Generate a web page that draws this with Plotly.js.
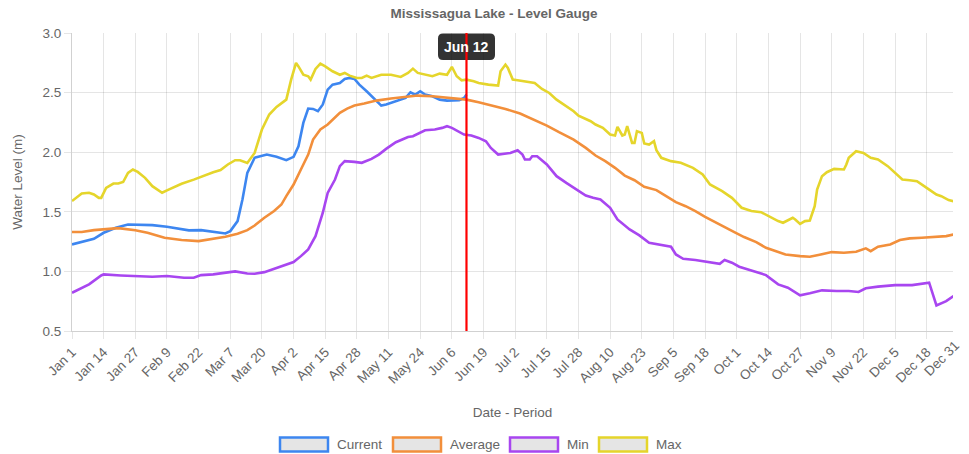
<!DOCTYPE html>
<html>
<head>
<meta charset="utf-8">
<script src="https://cdn.plot.ly/plotly-3.0.1.min.js"></script>
<style>html,body{margin:0;padding:0;background:#fff;}#chart{width:969px;height:454px;}</style>
</head>
<body>
<div id="chart"></div>
<script>
// ---- Data (day index from Jan 1, value in metres) ----
const tickDays = [0,13,26,39,52,65,78,91,104,117,130,143,156,169,182,195,208,221,234,247,260,273,286,299,312,325,338,351];
const tickLabels = ["Jan 1","Jan 14","Jan 27","Feb 9","Feb 22","Mar 7","Mar 20","Apr 2","Apr 15","Apr 28","May 11","May 24","Jun 6","Jun 19","Jul 2","Jul 15","Jul 28","Aug 10","Aug 23","Sep 5","Sep 18","Oct 1","Oct 14","Oct 27","Nov 9","Nov 22","Dec 5","Dec 18"];
const lastTickDay = 364;
const lastTickLabel = "Dec 31";
const currentDay = 162;
const currentLabel = "Jun 12";

const currentDays = [0,5,9,13,18,23,33,39,48,53,58,63,65,68,70,72,75,77,80,84,88,91,93,95,97,99,101,103,105,107,110,112,114,116,118,121,124,127,129,133,137,139,141,143,145,148,151,154,156,159,161,162];
const currentVals = [1.226,1.254,1.274,1.324,1.366,1.394,1.388,1.374,1.344,1.346,1.332,1.318,1.338,1.422,1.603,1.827,1.953,1.966,1.98,1.961,1.933,1.961,2.05,2.246,2.366,2.363,2.344,2.4,2.525,2.567,2.581,2.615,2.623,2.615,2.567,2.511,2.447,2.391,2.4,2.427,2.455,2.503,2.483,2.511,2.483,2.469,2.441,2.433,2.436,2.436,2.455,2.483];

const averageDays = [0,4,9,15,19,26,31,38,45,52,57,63,68,72,75,79,83,86,88,91,94,97,99,102,105,107,110,113,116,120,125,131,136,142,148,154,159,162,167,173,178,184,189,195,200,206,211,215,219,223,227,231,235,240,244,248,252,256,260,264,268,272,276,281,285,288,293,299,303,307,312,317,322,326,328,331,336,340,344,349,355,359,362];
const averageVals = [1.33,1.33,1.346,1.357,1.363,1.346,1.324,1.282,1.263,1.254,1.268,1.29,1.316,1.346,1.385,1.45,1.506,1.561,1.631,1.729,1.855,1.98,2.106,2.19,2.232,2.274,2.33,2.366,2.391,2.408,2.433,2.45,2.461,2.475,2.469,2.455,2.447,2.441,2.419,2.391,2.363,2.324,2.279,2.223,2.168,2.106,2.036,1.972,1.925,1.869,1.804,1.765,1.71,1.682,1.631,1.581,1.547,1.506,1.458,1.413,1.374,1.33,1.288,1.246,1.198,1.179,1.142,1.128,1.123,1.14,1.162,1.156,1.165,1.193,1.17,1.207,1.226,1.263,1.277,1.282,1.291,1.296,1.31];

const minDays = [0,7,12,13,20,33,39,46,50,53,58,64,67,72,75,79,83,87,91,94,97,100,103,105,108,110,112,116,119,123,126,129,133,138,140,145,149,152,154,156,159,161,164,167,170,172,175,178,180,183,185,186,188,189,191,195,199,203,207,211,214,217,221,224,229,233,237,241,244,246,248,251,256,261,266,268,271,274,278,282,285,288,290,294,299,303,308,314,319,323,326,331,338,345,349,352,355,359,362];
const minVals = [0.821,0.891,0.966,0.975,0.966,0.955,0.961,0.947,0.947,0.969,0.975,0.994,1.0,0.983,0.98,0.994,1.022,1.045,1.078,1.128,1.184,1.296,1.492,1.659,1.771,1.883,1.925,1.919,1.911,1.944,1.98,2.028,2.084,2.128,2.134,2.184,2.19,2.204,2.218,2.204,2.168,2.148,2.14,2.12,2.092,2.036,1.98,1.989,1.994,2.017,1.98,1.939,1.939,1.966,1.966,1.897,1.799,1.743,1.687,1.637,1.617,1.603,1.534,1.436,1.352,1.302,1.24,1.226,1.212,1.207,1.142,1.106,1.095,1.081,1.064,1.095,1.073,1.039,1.017,0.989,0.969,0.92,0.891,0.863,0.799,0.816,0.841,0.835,0.835,0.827,0.858,0.872,0.885,0.885,0.899,0.905,0.715,0.751,0.793];

const maxDays = [0,4,7,9,11,12,14,17,19,21,23,25,27,30,33,37,39,45,50,54,58,61,64,67,69,72,75,78,81,84,86,88,90,92,93,95,97,98,100,102,104,107,110,112,114,117,119,121,123,127,131,135,138,140,142,145,148,151,154,156,158,160,162,165,167,171,175,176,178,179,181,183,187,190,193,196,199,203,206,208,213,215,218,221,223,224,226,227,228,230,231,232,234,235,237,239,240,242,246,250,255,259,262,267,271,275,279,283,287,290,292,296,297,299,301,303,305,306,308,310,313,317,318,319,322,325,328,331,335,338,341,344,347,351,355,357,360,362];
const maxVals = [1.59,1.654,1.66,1.645,1.617,1.617,1.70,1.737,1.737,1.75,1.827,1.855,1.835,1.785,1.715,1.66,1.68,1.735,1.77,1.804,1.832,1.85,1.897,1.933,1.933,1.91,1.994,2.19,2.316,2.38,2.408,2.441,2.609,2.749,2.72,2.65,2.637,2.609,2.698,2.743,2.72,2.679,2.65,2.665,2.642,2.623,2.623,2.642,2.623,2.65,2.65,2.631,2.665,2.701,2.665,2.65,2.637,2.659,2.65,2.715,2.637,2.603,2.609,2.595,2.581,2.567,2.559,2.679,2.735,2.707,2.609,2.603,2.587,2.581,2.531,2.497,2.441,2.385,2.344,2.307,2.26,2.232,2.204,2.148,2.14,2.212,2.14,2.148,2.218,2.078,2.078,2.176,2.162,2.073,2.064,2.092,2.017,1.953,1.925,1.911,1.869,1.813,1.729,1.673,1.617,1.534,1.506,1.497,1.45,1.422,1.408,1.45,1.436,1.399,1.422,1.427,1.547,1.687,1.799,1.832,1.86,1.855,1.897,1.953,2.008,1.994,1.953,1.939,1.883,1.827,1.771,1.765,1.757,1.701,1.645,1.631,1.598,1.589];

const seriesNames = ["Current","Average","Min","Max"];
const seriesColors = ["#3d86f0","#f28f3b","#a846f0","#e5d52b"];

// ---- Geometry helpers (plot area in px) ----
const PL = 72, PT = 33, PR = 953, PB = 331;
const W = 969, H = 454;
const XMAX = 361.8;
const fx = p => (p - PL) / (PR - PL);
const fy = p => (PB - p) / (PB - PT);
const dayToPx = d => PL + d / XMAX * (PR - PL);
const FONT = "Liberation Sans, Arial, Helvetica, sans-serif";
const TXT = "#666666";
const GRID = "rgba(0,0,0,0.1)";

const allDays = [currentDays, averageDays, minDays, maxDays];
const allVals = [currentVals, averageVals, minVals, maxVals];
const traces = seriesNames.map((n, i) => ({
  type: "scatter", mode: "lines", name: n,
  x: allDays[i], y: allVals[i],
  line: {color: seriesColors[i], width: 2.6},
  hoverinfo: "skip", showlegend: false
}));

// legend (custom, chart.js style boxes)
const legendBoxes = [[280, 328], [393, 441], [510, 558], [599, 647]];
const legY0 = 437.5, legY1 = 451.5;
const shapes = [];
const annotations = [];
seriesNames.forEach((n, i) => {
  const b = legendBoxes[i];
  shapes.push({type: "rect", xref: "paper", yref: "paper",
    x0: fx(b[0]), x1: fx(b[1]), y0: fy(legY1), y1: fy(legY0),
    line: {color: seriesColors[i], width: 2.5}, fillcolor: "rgba(0,0,0,0.1)"});
  annotations.push({xref: "paper", yref: "paper", x: fx(b[1] + 7), y: fy((legY0 + legY1) / 2),
    xanchor: "left", yanchor: "middle", showarrow: false, text: n,
    font: {family: FONT, size: 13.5, color: TXT}});
});

// tooltip box for current date
const tipL = 438, tipR = 495, tipT = 33.5, tipB = 60, r = 5;
const rx = r / (PR - PL), ry = r / (PB - PT);
const x0 = fx(tipL), x1 = fx(tipR), yT = fy(tipT), yB = fy(tipB);
shapes.push({type: "path", xref: "paper", yref: "paper",
  path: `M ${x0 + rx},${yT} L ${x1 - rx},${yT} Q ${x1},${yT} ${x1},${yT - ry} L ${x1},${yB + ry} Q ${x1},${yB} ${x1 - rx},${yB} L ${x0 + rx},${yB} Q ${x0},${yB} ${x0},${yB + ry} L ${x0},${yT - ry} Q ${x0},${yT} ${x0 + rx},${yT} Z`,
  fillcolor: "rgba(0,0,0,0.8)", line: {width: 0}});
annotations.push({xref: "x", yref: "paper", x: currentDay, y: fy((tipT + tipB) / 2),
  xanchor: "center", yanchor: "middle", showarrow: false, text: "<b>" + currentLabel + "</b>",
  font: {family: FONT, size: 14, color: "#ffffff"}});
// red marker line
shapes.push({type: "line", xref: "x", yref: "paper", x0: currentDay, x1: currentDay, y0: 0, y1: 1,
  line: {color: "#ff0000", width: 2.2}, layer: "above"});

// last tick label (its tick lies just past the plot edge)
annotations.push({xref: "paper", yref: "paper", x: fx(dayToPx(lastTickDay) - 17), y: fy(358),
  xanchor: "center", yanchor: "middle", showarrow: false, textangle: -45, text: lastTickLabel,
  font: {family: FONT, size: 13.5, color: TXT}});

const layout = {
  width: W, height: H,
  margin: {l: PL, r: W - PR, t: PT, b: H - PB, pad: 0},
  paper_bgcolor: "#ffffff", plot_bgcolor: "#ffffff",
  font: {family: FONT, size: 13.5, color: TXT},
  title: {text: "<b>Mississagua Lake - Level Gauge</b>", x: 494 / W, xref: "container", xanchor: "center",
    y: 1 - 13 / H, yref: "container", yanchor: "middle", font: {family: FONT, size: 13.5, color: TXT}},
  showlegend: false,
  xaxis: {range: [0, XMAX], tickmode: "array", tickvals: tickDays, ticktext: tickLabels, tickangle: -45,
    showgrid: true, gridcolor: GRID, gridwidth: 1, zeroline: false,
    showline: true, linecolor: "rgba(0,0,0,0.18)", linewidth: 1,
    ticks: "outside", ticklen: 7, tickcolor: GRID, tickfont: {family: FONT, size: 13.5, color: TXT},
    title: {text: "Date - Period", standoff: 21, font: {family: FONT, size: 13.5, color: TXT}},
    automargin: false, fixedrange: true},
  yaxis: {range: [0.5, 3.0], tickmode: "array", tickvals: [0.5, 1.0, 1.5, 2.0, 2.5, 3.0],
    ticktext: ["0.5", "1.0", "1.5", "2.0", "2.5", "3.0"],
    showgrid: true, gridcolor: GRID, gridwidth: 1, zeroline: false,
    showline: true, linecolor: "rgba(0,0,0,0.18)", linewidth: 1,
    ticks: "outside", ticklen: 7, tickcolor: GRID, tickfont: {family: FONT, size: 13.5, color: TXT},
    title: {text: "Water Level (m)", standoff: 16, font: {family: FONT, size: 13.5, color: TXT}},
    automargin: false, fixedrange: true},
  shapes: shapes,
  annotations: annotations
};

Plotly.newPlot("chart", traces, layout, {staticPlot: true, displayModeBar: false});
</script>
</body>
</html>
